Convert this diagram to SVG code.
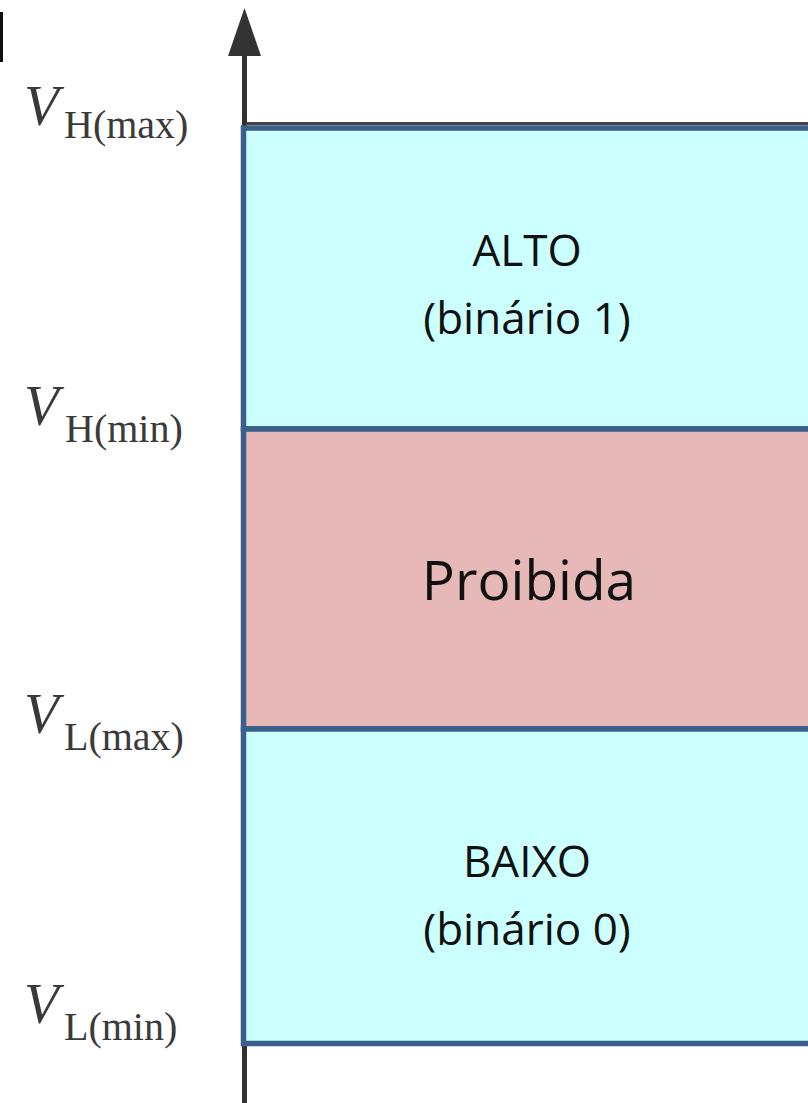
<svg xmlns="http://www.w3.org/2000/svg" width="808" height="1103" viewBox="0 0 808 1103">
<style>
.lbl{font-family:"Liberation Serif","Times New Roman",serif;fill:#3a3a3a}
.v{font-style:italic;font-size:57px}
.s{font-size:40px}
.t{font-family:"Open Sans","Noto Sans",sans-serif;fill:#111;text-anchor:middle}
.band{stroke:#3a5f8a;stroke-width:5.5}
</style>
<rect x="0" y="12" width="3" height="50" fill="#111"/>
<g id="connectors">
<line x1="244.5" y1="1103" x2="244.5" y2="50" stroke="#333" stroke-width="5"/>
<polygon points="244.5,8 228,56 261,56" fill="#333"/>
</g>
<g id="alto">
<rect class="band" x="243.5" y="128" width="570" height="301" fill="#ccffff"/>
<line x1="246" y1="123.5" x2="808" y2="123.5" stroke="#444" stroke-width="3"/>
<text class="t" x="527" y="266" font-size="44">ALTO</text>
<text class="t" x="527" y="334" font-size="44">(binário 1)</text>
</g>
<g id="proibida">
<rect class="band" x="243.5" y="429" width="570" height="300" fill="#e6b8b7"/>
<text class="t" x="529" y="600" font-size="55">Proibida</text>
</g>
<g id="baixo">
<rect class="band" x="243.5" y="729" width="570" height="314.5" fill="#ccffff"/>
<text class="t" x="527" y="877" font-size="44">BAIXO</text>
<text class="t" x="527" y="945" font-size="44">(binário 0)</text>
</g>
<g id="vhmax" class="lbl"><text class="v" x="24" y="125">V</text><text class="s" x="64" y="138">H(max)</text></g>
<g id="vhmin" class="lbl"><text class="v" x="24" y="425">V</text><text class="s" x="65" y="442">H(min)</text></g>
<g id="vlmax" class="lbl"><text class="v" x="24" y="733">V</text><text class="s" x="64" y="750">L(max)</text></g>
<g id="vlmin" class="lbl"><text class="v" x="24" y="1023">V</text><text class="s" x="64" y="1040">L(min)</text></g>
</svg>
